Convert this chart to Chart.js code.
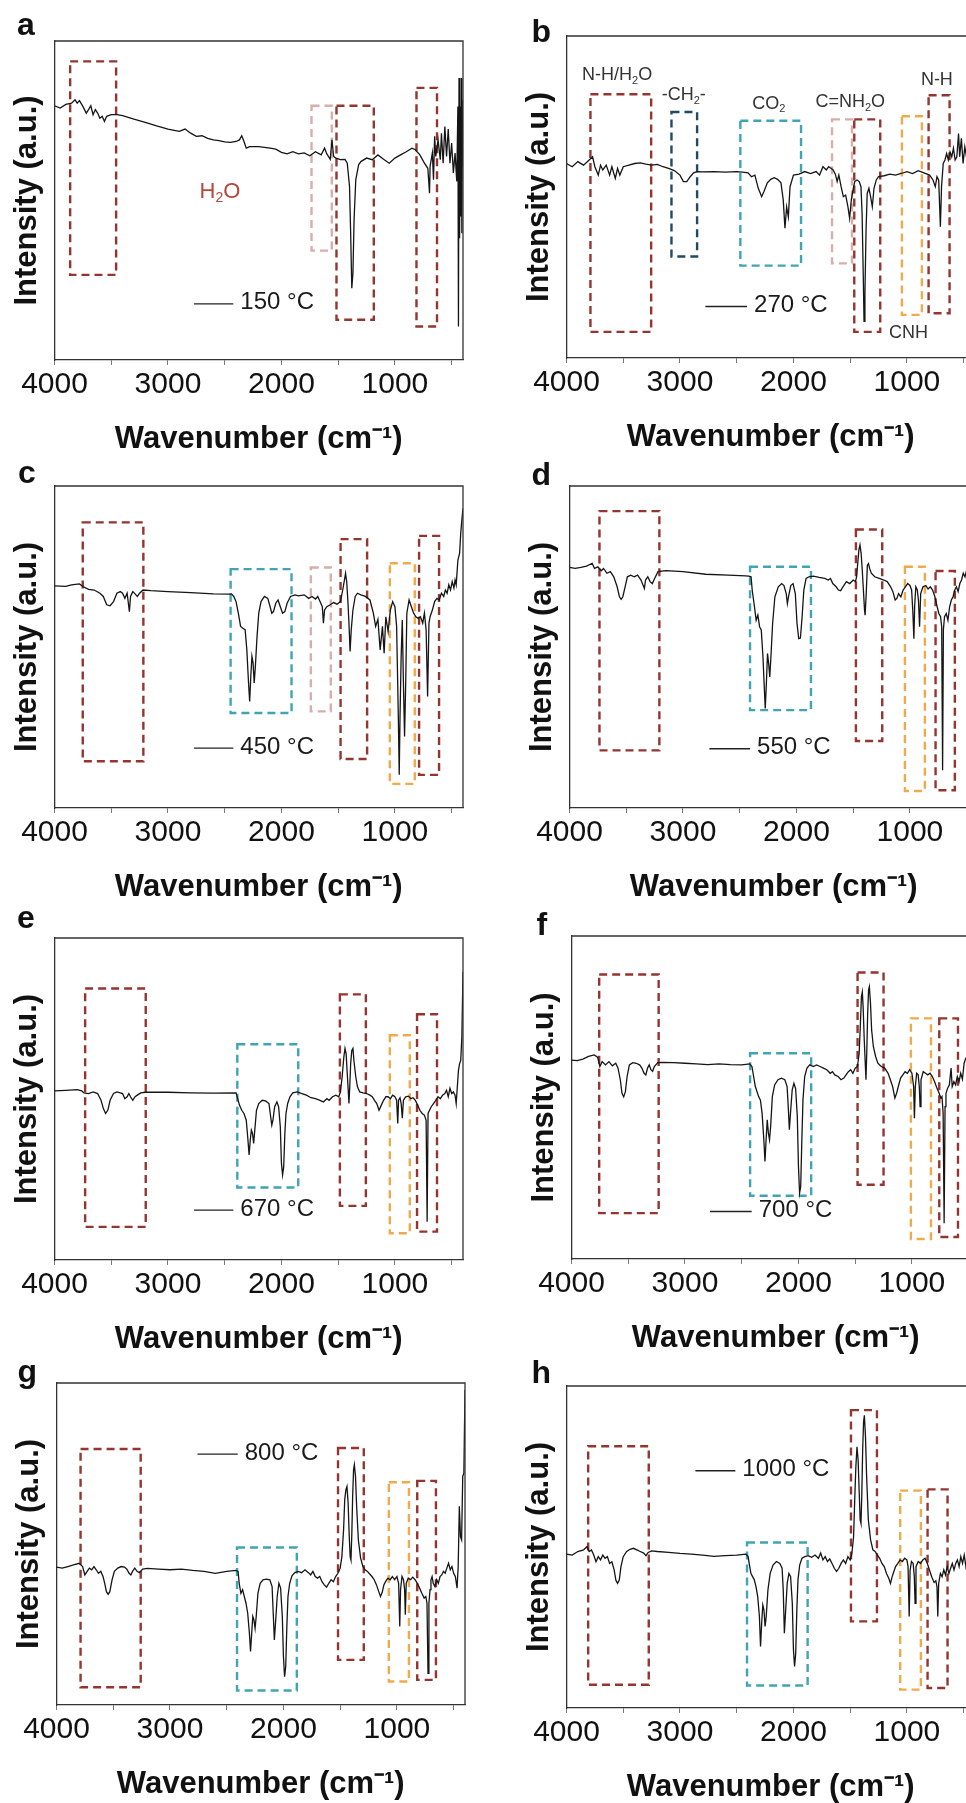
<!DOCTYPE html>
<html>
<head>
<meta charset="utf-8">
<script src="https://cdn.jsdelivr.net/npm/chart.js@4.4.1/dist/chart.umd.min.js"></script>
<style>
  html, body { margin: 0; padding: 0; background: #fff; overflow: hidden; }
  body { position: relative; width: 966px; height: 1803px; }
  canvas { position: absolute; }
</style>
</head>
<body>
<script>
// ---- spectra (wavenumber in cm-1, intensity in arbitrary units 0..100) ----
const waveA = [4000,3950,3900,3850,3820,3800,3780,3750,3720,3700,3680,3660,3640,3620,3600,3580,3560,3540,3500,3450,3400,3300,3200,3100,3000,2900,2850,2800,2750,2700,2650,2600,2550,2500,2450,2400,2370,2350,2330,2310,2280,2200,2100,2050,2000,1950,1900,1850,1800,1750,1700,1650,1620,1600,1570,1555,1540,1520,1480,1440,1420,1400,1390,1380,1370,1360,1345,1320,1300,1250,1200,1150,1100,1050,1000,950,900,850,820,780,740,710,695,690,670,660,650,640,620,600,590,575,560,545,530,515,500,485,470,455,445,440,435,430,425,420,415,410,405,400];
const intA = [79.7,79.0,80.1,80.5,81.6,80.5,81.3,79.5,77.4,78.5,79.7,76.9,78.5,77.4,75.8,76.4,74.8,76.4,76.9,76.9,76.6,75.5,74.5,73.4,72.4,71.7,72.4,71.1,70.1,70.3,69.5,69.0,68.8,68.4,68.2,68.5,69.0,70.3,68.5,66.4,66.9,66.9,66.4,66.1,65.1,64.6,65.3,64.6,64.9,64.0,65.3,64.3,66.4,64.6,62.9,69.0,63.8,63.3,62.8,62.9,61.7,54.4,39.7,22.5,27.2,43.9,56.5,61.2,62.2,63.3,62.8,64.3,62.9,61.7,63.3,64.3,65.3,66.4,65.9,64.3,61.7,60.1,52.3,60.7,64.9,56.5,70.1,63.8,69.0,62.8,71.1,61.7,73.2,63.8,72.4,61.7,68.0,58.6,64.9,56.0,79.5,10.5,88.4,38.2,79.5,45.0,88.4,39.7,81.6,60.7];

const waveB = [4000,3950,3900,3850,3800,3770,3750,3720,3700,3680,3650,3620,3600,3570,3550,3530,3500,3450,3400,3350,3300,3250,3200,3150,3100,3050,3000,2970,2940,2910,2880,2850,2800,2700,2600,2500,2450,2400,2370,2340,2310,2280,2260,2230,2200,2170,2140,2110,2090,2075,2060,2045,2030,2000,1950,1900,1850,1800,1770,1740,1710,1690,1670,1650,1630,1615,1600,1580,1560,1540,1520,1505,1490,1475,1460,1440,1420,1405,1395,1385,1378,1370,1360,1350,1335,1320,1305,1290,1270,1250,1200,1150,1100,1050,1000,950,900,850,800,770,750,735,720,705,695,680,665,650,635,620,605,590,575,560,545,535,520,505,490,475,460,440,420,400];
const intB = [60.4,59.4,61.0,59.9,61.5,62.5,59.4,56.8,59.9,58.4,59.9,56.8,59.4,55.8,58.9,56.8,59.4,59.9,60.4,60.6,60.2,59.9,60.1,59.4,58.9,58.2,56.8,54.8,54.8,56.3,57.5,57.9,57.8,57.9,57.7,57.9,57.7,57.5,56.3,56.8,52.7,50.1,51.7,54.4,55.5,56.0,55.5,54.4,49.1,40.3,46.9,43.8,53.2,56.8,57.1,57.9,57.3,57.9,56.8,59.4,58.4,59.4,58.9,58.4,57.0,54.8,56.8,53.2,50.1,50.6,47.0,43.4,49.1,52.2,54.8,55.3,54.8,53.2,44.9,26.3,11.4,20.1,39.8,51.1,52.7,50.1,47.0,52.7,55.3,56.3,56.6,57.1,56.8,57.3,57.9,57.3,58.2,57.5,56.8,55.3,53.2,56.3,55.2,40.8,53.2,60.4,61.5,63.5,61.5,64.0,62.5,65.1,61.5,62.5,69.7,62.5,68.2,60.4,65.6,62.5,66.6,59.4,64.6,62.5];

const waveC = [4000,3900,3850,3780,3750,3700,3650,3600,3570,3540,3510,3480,3450,3420,3400,3380,3360,3340,3330,3310,3290,3270,3250,3220,3150,3000,2800,2600,2460,2440,2420,2400,2380,2360,2340,2320,2305,2290,2280,2270,2260,2250,2240,2230,2215,2200,2180,2150,2120,2100,2085,2070,2050,2030,2010,1990,1970,1950,1920,1880,1850,1800,1760,1730,1700,1680,1660,1640,1630,1620,1600,1570,1540,1510,1480,1460,1445,1435,1425,1415,1405,1395,1385,1370,1350,1330,1300,1260,1220,1190,1170,1150,1130,1110,1095,1080,1060,1040,1020,1000,985,970,962,955,945,935,925,915,905,895,875,855,835,815,795,775,755,740,725,712,700,690,670,650,630,610,590,570,555,540,525,510,495,480,470,460,445,430,420,410,400];
const intC = [69.0,68.8,69.3,69.6,68.8,67.9,67.7,66.7,65.7,63.1,62.8,64.1,66.7,67.2,66.7,65.1,66.7,61.0,65.7,67.2,66.5,65.7,66.7,67.7,67.5,67.2,66.9,66.5,66.4,66.5,65.7,64.1,60.5,56.4,55.8,55.4,49.1,38.8,33.1,40.9,47.1,45.0,38.8,43.9,53.3,60.5,64.1,65.7,65.1,62.5,60.5,61.0,63.6,64.6,62.5,60.5,61.0,63.6,65.7,66.2,65.9,66.2,65.1,65.7,64.9,65.7,64.1,62.5,57.4,61.5,62.5,63.1,63.8,63.3,64.1,67.7,70.8,72.9,70.3,64.6,57.4,48.6,55.3,61.5,65.7,66.7,66.2,65.7,64.6,60.5,56.4,58.6,49.1,56.4,48.1,59.4,54.8,61.5,64.1,62.5,56.4,28.4,10.3,28.4,47.1,58.4,38.8,22.2,38.8,60.5,64.6,62.5,60.5,59.4,58.9,59.4,57.4,60.5,55.3,34.6,57.4,59.4,61.5,64.1,65.1,64.6,66.7,65.7,67.7,66.7,69.3,67.7,70.3,68.3,70.8,69.3,77.0,79.1,85.3,89.5,93.1];

const waveD = [4000,3950,3900,3850,3800,3780,3750,3720,3700,3670,3640,3610,3580,3560,3545,3530,3510,3490,3460,3430,3400,3370,3340,3330,3310,3290,3270,3250,3220,3150,3000,2800,2600,2450,2420,2400,2390,2370,2355,2340,2325,2310,2295,2285,2275,2265,2255,2245,2235,2225,2210,2190,2160,2130,2110,2090,2080,2070,2050,2030,2010,1995,1980,1965,1950,1935,1915,1890,1850,1800,1750,1720,1700,1680,1650,1630,1610,1590,1560,1530,1500,1480,1470,1460,1450,1440,1430,1420,1410,1400,1395,1385,1375,1365,1355,1340,1310,1270,1230,1200,1170,1150,1130,1115,1100,1080,1060,1040,1020,1000,985,975,965,958,948,935,925,915,905,885,860,840,820,800,780,760,745,730,720,712,705,695,680,665,650,635,620,605,590,575,560,545,530,515,500,480,450,420,400];
const intD = [74.7,74.4,74.7,75.1,76.0,74.4,74.9,73.7,74.4,72.9,73.4,71.8,68.7,65.6,64.8,65.6,68.7,71.8,72.3,71.8,72.3,70.8,68.2,70.8,71.8,70.3,69.7,71.3,73.4,73.7,73.4,72.6,72.3,72.1,72.0,71.8,67.7,62.5,58.3,59.9,56.3,55.3,46.9,38.7,30.9,38.7,48.0,44.9,40.7,46.9,57.3,65.6,68.7,69.7,69.1,66.6,63.5,65.6,69.1,69.7,66.6,57.3,52.6,52.8,59.4,67.7,71.3,71.8,72.0,71.6,71.3,70.8,71.3,69.7,68.7,67.7,67.5,68.7,70.3,69.7,70.8,70.3,71.8,75.9,80.1,81.7,79.1,73.9,67.7,61.5,59.9,66.6,75.4,75.9,74.4,72.9,71.8,71.3,70.8,70.3,68.7,67.2,64.6,65.1,66.6,65.6,67.7,68.7,69.7,69.1,67.7,61.5,52.6,62.9,68.7,67.7,64.6,56.3,66.6,68.7,69.1,68.0,68.7,67.7,65.6,62.5,60.4,59.4,56.3,11.7,55.4,59.4,60.4,58.3,62.5,64.6,65.6,67.7,68.7,67.2,69.7,70.8,72.9,71.8,73.9,72.9,76.0,78.0,80.1];

const waveE = [4000,3900,3800,3760,3740,3700,3660,3620,3590,3570,3550,3530,3510,3480,3450,3420,3400,3380,3360,3345,3330,3310,3290,3270,3240,3200,3000,2800,2600,2400,2390,2370,2350,2330,2310,2295,2285,2275,2265,2255,2245,2235,2220,2200,2170,2140,2110,2095,2085,2075,2060,2040,2025,2010,2000,1990,1980,1970,1960,1945,1925,1900,1860,1820,1780,1740,1700,1660,1630,1600,1580,1550,1520,1495,1480,1465,1450,1440,1430,1420,1410,1405,1398,1390,1380,1370,1360,1345,1330,1310,1280,1250,1220,1200,1180,1160,1140,1120,1100,1080,1060,1040,1020,1000,985,975,968,955,945,935,925,905,880,860,840,820,800,780,760,740,725,716,708,695,680,660,640,620,600,580,560,545,530,515,500,485,470,460,450,440,430,420,410,400];
const intE = [52.5,52.7,52.9,52.5,51.9,51.7,52.2,51.7,49.6,47.1,45.5,46.5,49.6,51.7,52.2,51.9,51.7,50.1,50.7,51.7,50.7,49.6,50.7,51.2,51.9,52.1,52.1,51.9,51.8,51.9,50.7,48.1,46.5,45.5,43.4,37.2,32.6,37.2,40.3,39.3,36.2,40.3,46.5,48.6,49.6,49.4,48.6,44.5,41.9,43.4,47.6,49.1,47.6,41.4,30.0,26.4,29.0,39.3,45.5,48.6,50.7,51.9,52.2,51.7,51.2,50.4,50.1,49.6,49.1,50.1,49.6,50.7,51.2,50.7,52.2,56.9,63.1,65.7,64.1,57.9,51.7,48.6,53.8,61.0,65.1,65.7,61.5,56.9,53.8,52.2,51.9,51.7,51.2,50.7,49.6,48.6,46.5,48.1,49.6,50.7,50.7,50.1,51.2,50.7,49.6,42.4,49.6,50.4,48.6,44.0,49.6,50.7,50.9,50.1,50.4,49.6,48.1,46.5,45.5,45.0,43.4,11.9,45.5,46.5,47.6,48.6,49.6,50.7,50.1,51.2,51.7,52.7,50.7,53.3,51.7,52.2,51.2,48.6,53.8,58.9,61.0,62.0,69.3,89.5];

const waveF = [4000,3950,3900,3850,3800,3770,3750,3730,3700,3670,3640,3610,3590,3570,3555,3540,3525,3510,3490,3460,3430,3400,3380,3360,3345,3330,3315,3300,3285,3270,3240,3200,3100,3000,2900,2800,2700,2600,2500,2430,2410,2395,2380,2365,2350,2335,2320,2305,2295,2285,2275,2265,2255,2245,2230,2210,2180,2150,2120,2100,2090,2080,2070,2055,2040,2025,2010,2000,1990,1980,1970,1960,1945,1925,1900,1870,1840,1810,1780,1750,1720,1700,1680,1650,1625,1600,1580,1560,1540,1520,1500,1480,1465,1455,1445,1437,1430,1420,1410,1405,1398,1390,1382,1375,1365,1355,1340,1320,1300,1270,1240,1210,1190,1170,1150,1135,1120,1100,1080,1060,1040,1020,1000,985,978,970,958,945,935,928,920,900,880,860,840,820,800,780,760,745,735,725,716,708,700,685,670,655,645,630,615,600,585,570,555,540,525,500,470,440,400];
const intF = [61.6,61.4,61.9,62.7,63.2,62.5,59.6,61.1,60.1,61.1,59.8,60.6,59.1,55.5,51.3,50.2,51.8,56.5,60.1,60.8,60.6,60.1,59.1,57.5,57.0,59.1,60.1,58.6,58.1,59.6,60.8,60.9,60.8,60.6,60.4,60.2,60.4,60.2,60.1,60.4,59.6,56.5,53.4,51.8,50.2,49.2,45.0,36.9,30.2,36.9,43.1,39.0,36.9,41.0,50.3,53.9,55.5,56.0,55.5,53.4,47.2,40.0,45.2,52.4,54.4,52.8,44.1,28.7,20.4,22.5,36.9,49.3,56.5,59.1,60.1,59.6,60.1,59.6,59.1,58.6,57.5,58.0,57.0,56.5,55.5,56.0,57.0,58.0,58.6,57.5,59.1,59.6,63.7,72.0,81.2,82.7,78.1,67.8,59.6,55.5,63.7,75.9,83.3,84.3,79.2,70.9,65.8,62.7,60.6,59.6,59.1,57.5,55.5,53.4,49.8,51.3,53.4,56.0,57.0,58.0,57.5,58.6,57.5,53.4,43.6,53.4,57.5,57.0,53.4,47.2,55.5,58.0,57.5,57.0,57.5,56.5,54.9,52.9,51.3,49.8,50.3,45.2,11.1,47.2,51.3,52.9,53.9,59.1,53.4,54.9,53.9,56.5,54.9,57.5,55.7,60.6,62.2,62.7,63.7,64.7,65.8];

const waveG = [4000,3950,3900,3850,3800,3770,3750,3730,3710,3690,3670,3650,3630,3610,3590,3575,3560,3545,3530,3510,3490,3460,3430,3400,3380,3360,3345,3330,3310,3290,3270,3240,3200,3100,3000,2900,2800,2700,2600,2500,2420,2400,2390,2375,2360,2345,2330,2315,2300,2290,2280,2270,2260,2250,2240,2225,2205,2180,2150,2120,2100,2090,2080,2070,2055,2040,2025,2010,2000,1990,1980,1970,1960,1945,1925,1900,1870,1840,1810,1780,1760,1740,1720,1700,1680,1660,1640,1620,1600,1580,1560,1540,1520,1500,1485,1470,1460,1450,1440,1430,1420,1412,1405,1398,1390,1382,1375,1365,1355,1340,1320,1300,1280,1260,1240,1220,1200,1180,1160,1145,1130,1115,1100,1080,1060,1040,1020,1000,985,975,968,955,942,932,926,918,900,880,860,840,820,800,780,760,745,735,726,718,708,700,690,680,665,650,635,620,605,590,575,560,545,530,515,500,485,470,460,450,440,430,420,410,400];
const intG = [42.8,42.5,43.0,43.5,44.0,43.0,40.4,41.5,42.5,42.0,43.0,42.0,40.9,41.5,39.9,37.8,35.2,34.4,35.2,38.9,41.5,42.5,43.0,42.8,42.2,40.9,40.4,41.5,42.5,41.5,41.1,42.2,42.4,42.2,42.0,42.2,41.8,41.5,40.9,41.5,41.8,41.5,37.8,34.7,35.8,33.7,31.6,28.5,22.3,16.6,22.3,27.5,26.4,23.8,27.5,34.7,37.8,38.9,39.1,38.9,36.8,28.5,20.2,25.4,33.7,37.8,36.3,27.5,15.0,8.8,11.9,24.4,33.7,37.8,40.1,41.1,41.5,41.1,42.0,41.1,40.4,41.5,39.9,39.4,39.9,38.3,37.3,36.6,37.8,38.9,38.3,39.9,40.9,42.5,46.1,54.4,63.7,66.8,67.9,62.7,52.3,46.1,45.1,52.3,64.8,73.1,74.6,71.0,61.7,51.3,45.6,43.0,42.0,41.5,40.7,39.9,38.9,37.3,35.2,33.7,34.9,37.3,38.3,39.4,38.9,39.9,38.9,39.9,37.8,24.4,35.8,39.9,38.9,35.8,28.0,37.8,39.4,38.9,39.7,38.9,37.8,36.3,34.7,33.2,33.7,31.6,9.8,31.6,35.8,38.9,39.9,37.8,36.8,38.9,37.8,39.9,40.4,41.5,40.9,42.5,44.0,42.0,43.0,40.9,39.9,36.3,43.0,61.7,52.3,51.3,71.0,72.0,97.9];

const waveH = [4000,3950,3900,3850,3820,3800,3780,3760,3740,3720,3700,3680,3660,3640,3620,3600,3580,3565,3550,3535,3520,3500,3470,3440,3410,3380,3350,3320,3300,3280,3250,3200,3100,3000,2900,2800,2700,2600,2500,2420,2400,2390,2375,2360,2345,2330,2315,2300,2290,2280,2270,2260,2250,2240,2225,2205,2180,2150,2120,2100,2090,2080,2070,2055,2040,2025,2010,2000,1990,1980,1970,1960,1945,1925,1900,1870,1840,1810,1780,1760,1740,1720,1700,1680,1660,1640,1620,1600,1580,1560,1540,1520,1500,1485,1470,1460,1450,1440,1430,1420,1412,1405,1398,1390,1382,1375,1365,1355,1340,1320,1300,1280,1260,1240,1220,1200,1180,1160,1145,1130,1115,1100,1080,1060,1040,1020,1000,990,980,972,960,945,935,928,920,900,880,860,840,820,800,780,760,745,735,728,720,705,690,675,660,645,630,615,600,585,570,555,540,525,510,495,480,460,430,400];
const intH = [47.8,47.5,48.6,49.1,50.1,48.6,49.1,47.5,45.4,47.0,46.0,47.5,46.5,47.0,44.9,45.4,42.9,39.7,38.7,39.7,43.9,47.0,48.6,49.3,49.6,49.1,48.6,48.1,47.3,48.3,48.8,48.6,48.3,48.0,47.8,47.5,47.1,47.3,47.5,47.8,47.1,44.9,41.8,40.8,39.8,37.7,34.6,28.4,19.1,26.4,32.0,30.5,25.3,28.4,36.6,41.8,44.4,45.5,44.9,43.4,36.7,23.2,29.4,38.7,41.8,40.8,32.5,18.1,12.9,17.0,30.5,39.8,44.4,46.5,47.0,47.3,46.8,47.5,46.5,48.1,46.0,47.0,45.5,46.3,44.9,43.4,42.4,43.4,44.9,46.0,44.9,47.0,46.0,48.0,53.2,64.6,74.9,81.1,77.0,66.6,58.4,57.3,65.6,80.1,88.8,90.9,84.2,71.8,58.4,52.2,49.1,48.6,47.5,46.5,44.9,43.9,41.8,40.3,38.7,40.8,42.4,43.9,44.9,46.0,45.5,46.5,46.0,43.9,28.4,42.7,45.5,44.9,40.8,32.5,43.9,45.5,44.9,46.0,46.5,44.9,42.7,40.6,39.0,39.5,37.7,28.4,38.7,41.8,40.8,42.9,41.3,43.9,41.8,43.4,44.9,42.9,44.9,46.0,43.9,47.0,44.9,47.5,43.9,47.0,48.1,49.1];

const temps = ['150 °C', '270 °C', '450 °C', '550 °C', '670 °C', '700 °C', '800 °C', '1000 °C'];
const tickValues = [4000, 3500, 3000, 2500, 2000, 1500, 1000, 500];

// band regions marked with dashed boxes: [from, to (cm-1), top, bottom (a.u.), group]
const bandsA = [[3862,3457,93.6,26.7,'red'],[1735,1556,79.7,34.3,'pink'],[1515,1186,79.7,12.6,'red'],[810,629,85.3,10.5,'red']];
const bandsB = [[3789,3254,81.9,8.1,'red'],[3075,2849,76.4,31.5,'navy'],[2468,1933,73.7,28.7,'teal'],[1660,1484,74.1,29.4,'pink'],[1464,1235,74.1,8.1,'red'],[1044,868,75.1,13.4,'orange'],[809,624,81.6,13.9,'red']];
const bandsC = [[3751,3217,88.7,14.5,'red'],[2448,1911,74.2,29.5,'teal'],[1741,1565,74.7,30.0,'pink'],[1479,1245,83.5,15.2,'red'],[1045,825,76.0,7.5,'orange'],[787,611,84.5,10.3,'red']];
const bandsD = [[3736,3208,92.2,17.9,'red'],[2409,1872,74.9,30.4,'teal'],[1476,1244,86.5,20.8,'red'],[1044,868,74.9,5.3,'orange'],[774,604,73.6,5.5,'red']];
const bandsE = [[3730,3196,84.3,10.3,'red'],[2389,1852,67.0,22.5,'teal'],[1485,1256,82.5,16.8,'red'],[1045,869,69.8,8.3,'orange'],[805,629,76.3,8.8,'red']];
const bandsF = [[3756,3232,88.1,14.2,'red'],[2426,1888,63.7,19.6,'teal'],[1479,1250,88.7,23.0,'red'],[1009,832,74.5,6.2,'orange'],[759,594,74.5,6.8,'red']];
const bandsG = [[3788,3258,79.5,5.5,'red'],[2409,1882,48.9,4.5,'teal'],[1519,1292,79.8,14.0,'red'],[1071,894,69.2,7.3,'orange'],[821,656,69.6,7.8,'red']];
const bandsH = [[3809,3275,81.3,7.2,'red'],[2409,1875,51.4,7.0,'teal'],[1493,1264,92.5,26.9,'red'],[1059,877,67.5,5.7,'orange'],[818,642,67.9,6.2,'red']];

// band labels ("_2" marks a subscript)
const labelsA = [['H_2O', 2542, 52.8]];
const labelsB = [['N-H/H_2O', 3554, 87.8], ['-CH_2-', 2967, 81.6], ['CO_2', 2218, 79.0], ['C=NH_2O', 1499, 79.5], ['N-H', 736, 86.3], ['CNH', 985, 7.7]];

const FONT = '"Liberation Sans", Arial, Helvetica, sans-serif';
Chart.defaults.font.family = FONT;

const boxColors = { red: '#94352f', pink: '#d8adab', navy: '#1f4b66', teal: '#41a4b4', orange: '#f0aa4c' };

// page layout for each panel (pixels) and the legend spot (data units)
const panels = [
  { letter: 'a', wave: waveA, inten: intA, bands: bandsA, labels: labelsA, labelColor: '#b5473b', labelSize: 22, left: 54.5, top: 41, bottom: 360, lx: 17, ly: 35, legend: [2771, 2424, 17.6] },
  { letter: 'b', wave: waveB, inten: intB, bands: bandsB, labels: labelsB, labelColor: '#333', labelSize: 18, left: 566, top: 36, bottom: 358, lx: 531, ly: 42, legend: [2776, 2409, 16.0] },
  { letter: 'c', wave: waveC, inten: intC, bands: bandsC, labels: [], left: 54.5, top: 486, bottom: 808, lx: 18, ly: 483, legend: [2771, 2424, 18.6] },
  { letter: 'd', wave: waveD, inten: intD, bands: bandsD, labels: [], left: 569, top: 486, bottom: 808, lx: 531, ly: 485, legend: [2767, 2409, 18.4] },
  { letter: 'e', wave: waveE, inten: intE, bands: bandsE, labels: [], left: 54.5, top: 938, bottom: 1260, lx: 17, ly: 928, legend: [2771, 2424, 15.5] },
  { letter: 'f', wave: waveF, inten: intF, bands: bandsF, labels: [], left: 571, top: 936, bottom: 1259, lx: 536, ly: 935, legend: [2779, 2412, 14.7] },
  { letter: 'g', wave: waveG, inten: intG, bands: bandsG, labels: [], left: 56, top: 1383, bottom: 1705, lx: 17, ly: 1382, legend: [2757, 2403, 77.9] },
  { letter: 'h', wave: waveH, inten: intH, bands: bandsH, labels: [], left: 566, top: 1386, bottom: 1708, lx: 531, ly: 1383, legend: [2864, 2512, 73.7] },
];

const Y_AXIS_W = 54.5, TOP_PAD = 45, X_AXIS_H = 100, PLOT_W = 408.5, RIGHT_PAD = 20;

function drawRich(ctx, text, x, y, size, color) {
  const parts = text.split(/(_\d)/).filter(Boolean).map(s => s[0] === '_' ? [s.slice(1), true] : [s, false]);
  const sub = Math.round(size * 0.62);
  let total = 0;
  parts.forEach(([t, isSub]) => {
    ctx.font = (isSub ? sub : size) + 'px ' + FONT;
    total += ctx.measureText(t).width;
  });
  let cx = x - total / 2;
  ctx.fillStyle = color;
  ctx.textAlign = 'left';
  ctx.textBaseline = 'middle';
  parts.forEach(([t, isSub]) => {
    ctx.font = (isSub ? sub : size) + 'px ' + FONT;
    ctx.fillText(t, cx, isSub ? y + size * 0.32 : y);
    cx += ctx.measureText(t).width;
  });
}

function decorPlugin(p, idx, canvasLeft, canvasTop) {
  return {
    id: 'decor' + p.letter,
    beforeDatasetsDraw(chart) {
      const { ctx, chartArea: a, scales: { x, y } } = chart;
      ctx.save();
      ctx.setLineDash([8, 5]);
      ctx.lineWidth = 2.4;
      p.bands.forEach(([w1, w2, yt, yb, g]) => {
        const x1 = x.getPixelForValue(w1), x2 = x.getPixelForValue(w2);
        const y1 = y.getPixelForValue(yt), y2 = y.getPixelForValue(yb);
        ctx.strokeStyle = boxColors[g];
        ctx.strokeRect(x1, y1, x2 - x1, y2 - y1);
      });
      ctx.restore();
    },
    afterDraw(chart) {
      const { ctx, chartArea: a, scales: { x, y } } = chart;
      ctx.save();
      // top and right frame
      ctx.strokeStyle = '#333';
      ctx.lineWidth = 1.3;
      ctx.beginPath();
      ctx.moveTo(a.left, a.top);
      ctx.lineTo(a.right, a.top);
      ctx.lineTo(a.right, a.bottom);
      ctx.stroke();
      // band labels
      p.labels.forEach(([t, w, v]) => drawRich(ctx, t, x.getPixelForValue(w), y.getPixelForValue(v), p.labelSize, p.labelColor));
      // legend
      const [ws, we, lv] = p.legend;
      const lx1 = x.getPixelForValue(ws), lx2 = x.getPixelForValue(we), ly = y.getPixelForValue(lv);
      ctx.strokeStyle = '#222';
      ctx.lineWidth = 1.4;
      ctx.beginPath();
      ctx.moveTo(lx1, ly);
      ctx.lineTo(lx2, ly);
      ctx.stroke();
      ctx.fillStyle = '#1a1a1a';
      ctx.font = '24px ' + FONT;
      ctx.textAlign = 'left';
      ctx.textBaseline = 'middle';
      ctx.fillText(temps[idx], lx2 + 7, ly - 1);
      // panel letter
      ctx.font = 'bold 32px ' + FONT;
      ctx.textBaseline = 'alphabetic';
      ctx.fillStyle = '#111';
      ctx.fillText(p.letter, p.lx - canvasLeft, p.ly - canvasTop);
      ctx.restore();
    }
  };
}

panels.forEach((p, idx) => {
  const plotH = p.bottom - p.top;
  const W = Y_AXIS_W + PLOT_W + RIGHT_PAD;
  const H = TOP_PAD + plotH + X_AXIS_H;
  const canvasLeft = p.left - Y_AXIS_W;
  const canvasTop = p.top - TOP_PAD;
  const cv = document.createElement('canvas');
  cv.width = W; cv.height = H;
  cv.style.width = W + 'px'; cv.style.height = H + 'px';
  cv.style.left = canvasLeft + 'px'; cv.style.top = canvasTop + 'px';
  document.body.appendChild(cv);

  const n = Math.min(p.wave.length, p.inten.length);
  const points = [];
  for (let i = 0; i < n; i++) points.push({ x: p.wave[i], y: p.inten[i] });

  new Chart(cv, {
    type: 'line',
    data: {
      datasets: [{
        label: temps[idx],
        data: points,
        borderColor: '#151515',
        borderWidth: 1.3,
        pointRadius: 0,
        tension: 0,
        fill: false,
      }],
    },
    options: {
      responsive: false,
      animation: false,
      devicePixelRatio: 1,
      layout: { padding: { top: TOP_PAD, left: 0, right: RIGHT_PAD, bottom: 0 } },
      plugins: { legend: { display: false }, tooltip: { enabled: false } },
      scales: {
        x: {
          type: 'linear',
          reverse: true,
          min: 400,
          max: 4000,
          afterFit: s => { s.height = X_AXIS_H; },
          afterBuildTicks: s => { s.ticks = tickValues.map(v => ({ value: v })); },
          ticks: {
            callback: v => (v % 1000 === 0 ? String(v) : ''),
            font: { size: 30 },
            color: '#111',
            padding: 2,
            maxRotation: 0,
            autoSkip: false,
          },
          grid: { display: true, drawOnChartArea: false, drawTicks: true, tickLength: 5, color: '#777' },
          border: { color: '#333', width: 1.3 },
          title: {
            display: true,
            text: 'Wavenumber (cm⁻¹)',
            font: { size: 31, weight: 'bold' },
            color: '#111',
            padding: { top: 0, bottom: 2 },
          },
        },
        y: {
          min: 0,
          max: 100,
          afterFit: s => { s.width = Y_AXIS_W; },
          ticks: { display: false },
          grid: { display: false },
          border: { color: '#333', width: 1.3 },
          title: {
            display: true,
            text: 'Intensity (a.u.)',
            font: { size: 31, weight: 'bold' },
            color: '#111',
            padding: { top: 9, bottom: 0 },
          },
        },
      },
    },
    plugins: [decorPlugin(p, idx, canvasLeft, canvasTop)],
  });
});
</script>
</body>
</html>
